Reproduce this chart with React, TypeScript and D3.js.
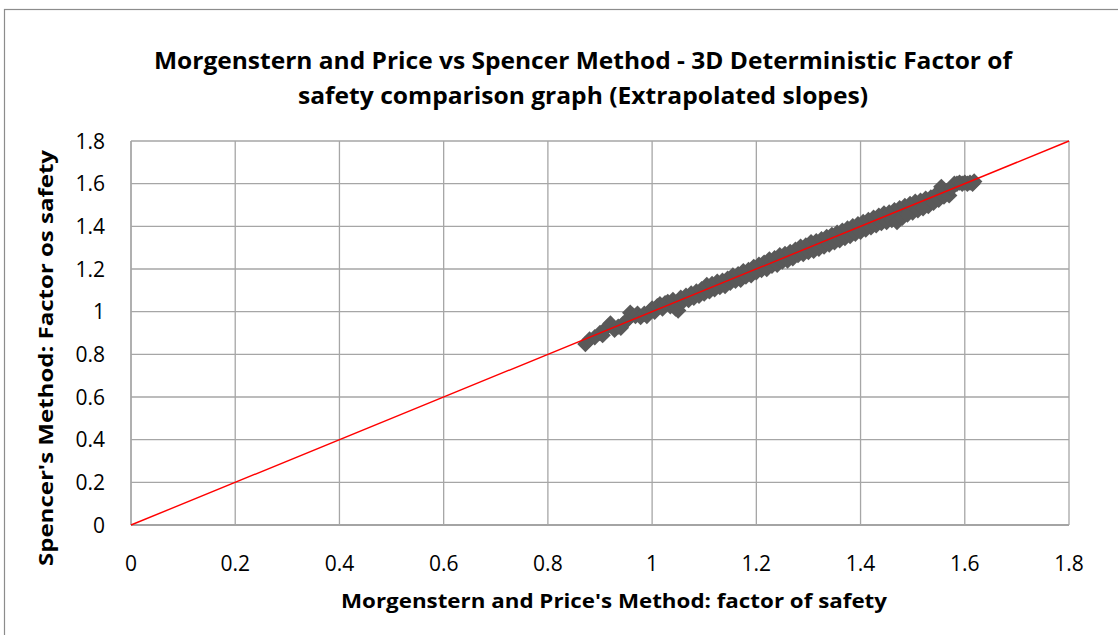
import React from 'react';
import * as d3 from 'd3';

// [Morgenstern-Price FoS, Spencer FoS]
const fosPairs: [number, number][] = [
  [0.872, 0.848], [0.88, 0.87], [0.89, 0.88], [0.9, 0.9], [0.905, 0.89], [0.915, 0.93],
  [0.92, 0.945], [0.928, 0.915], [0.935, 0.93], [0.94, 0.925], [0.945, 0.945], [0.952, 0.96],
  [0.958, 0.995], [0.962, 0.985], [0.968, 0.98], [0.972, 0.99], [0.978, 0.975], [0.985, 0.99],
  [0.99, 0.98], [0.995, 1.0], [1.0, 1.015], [1.005, 1.0],
  [1.01, 1.025], [1.015, 1.035], [1.02, 1.015], [1.025, 1.04], [1.03, 1.045], [1.035, 1.025],
  [1.04, 1.055], [1.045, 1.015], [1.05, 1.005], [1.055, 1.065], [1.06, 1.05], [1.065, 1.075],
  [1.07, 1.055], [1.075, 1.085], [1.08, 1.065], [1.085, 1.095], [1.09, 1.075], [1.095, 1.105], [1.1, 1.085],
  [1.105, 1.125], [1.11, 1.095], [1.115, 1.13], [1.12, 1.105], [1.125, 1.14], [1.13, 1.115],
  [1.135, 1.145], [1.14, 1.12], [1.145, 1.155], [1.15, 1.135], [1.155, 1.17], [1.16, 1.145],
  [1.165, 1.175], [1.17, 1.15], [1.175, 1.19], [1.18, 1.165], [1.185, 1.195], [1.19, 1.17],
  [1.195, 1.21], [1.2, 1.185],
  [1.205, 1.22], [1.21, 1.195], [1.215, 1.23], [1.22, 1.2], [1.225, 1.245], [1.23, 1.215],
  [1.235, 1.25], [1.24, 1.22], [1.245, 1.265], [1.25, 1.235], [1.255, 1.27], [1.26, 1.24],
  [1.265, 1.28], [1.27, 1.25], [1.275, 1.29], [1.28, 1.265], [1.285, 1.305], [1.29, 1.27],
  [1.295, 1.31], [1.3, 1.28],
  [1.305, 1.325], [1.31, 1.285], [1.315, 1.33], [1.32, 1.295], [1.325, 1.34], [1.33, 1.305],
  [1.335, 1.35], [1.34, 1.315], [1.345, 1.36], [1.35, 1.325], [1.355, 1.37], [1.36, 1.335],
  [1.365, 1.38], [1.37, 1.345], [1.375, 1.39], [1.38, 1.355], [1.385, 1.4], [1.39, 1.365],
  [1.395, 1.41], [1.4, 1.375],
  [1.405, 1.42], [1.41, 1.385], [1.415, 1.43], [1.42, 1.395], [1.425, 1.44], [1.43, 1.405],
  [1.435, 1.45], [1.44, 1.415], [1.445, 1.46], [1.45, 1.42], [1.455, 1.465], [1.46, 1.43],
  [1.465, 1.475], [1.47, 1.42], [1.475, 1.485], [1.48, 1.44], [1.485, 1.495], [1.49, 1.455],
  [1.495, 1.505], [1.5, 1.465],
  [1.505, 1.515], [1.51, 1.475], [1.515, 1.52], [1.52, 1.485], [1.525, 1.53], [1.53, 1.495],
  [1.535, 1.535], [1.54, 1.51], [1.545, 1.55], [1.55, 1.525], [1.555, 1.585], [1.56, 1.54],
  [1.565, 1.565], [1.57, 1.545], [1.575, 1.58], [1.58, 1.6], [1.585, 1.6], [1.59, 1.605],
  [1.595, 1.6], [1.6, 1.605], [1.605, 1.6], [1.61, 1.605], [1.615, 1.6], [1.618, 1.61],
];

// 1:1 reference line
const equalityLine: [number, number][] = [[0, 0], [1.8, 1.8]];

const axisTicks = [0, 0.2, 0.4, 0.6, 0.8, 1, 1.2, 1.4, 1.6, 1.8];

const titleLines = [
  'Morgenstern and Price vs Spencer Method - 3D Deterministic Factor of',
  'safety comparison graph (Extrapolated slopes)',
];

const W = 1118;
const H = 635;
const font = "'Open Sans', 'Liberation Sans', sans-serif";

const App: React.FC = () => {
  const x = d3.scaleLinear().domain([0, 1.8]).range([131, 1069]);
  const y = d3.scaleLinear().domain([0, 1.8]).range([525, 141]);

  const diamond = d3.symbol().type(d3.symbolSquare).size(135)();
  const line = d3.line<[number, number]>().x(d => x(d[0])).y(d => y(d[1]));

  return (
    <svg width={W} height={H} style={{ position: 'absolute', left: 0, top: 0, background: '#fff' }}>
      {/* outer chart border */}
      <rect x={4.5} y={9.5} width={1300} height={800} fill="#fff" stroke="#8c8c8c" strokeWidth={1.2} />

      {/* title */}
      {titleLines.map((t, i) => (
        <text key={t} x={583} y={69 + i * 35} textAnchor="middle" fontFamily={font}
          fontWeight="bold" fontSize={22.5} fill="#000"
          textLength={i === 0 ? 858 : 570} lengthAdjust="spacingAndGlyphs">{t}</text>
      ))}

      {/* gridlines */}
      {axisTicks.map(t => (
        <g key={'g' + t}>
          <line x1={x(t)} x2={x(t)} y1={y(0)} y2={y(1.8)} stroke={t === 0 ? '#868686' : '#a6a6a6'} strokeWidth={1.3} />
          <line x1={x(0)} x2={x(1.8)} y1={y(t)} y2={y(t)} stroke={t === 0 ? '#868686' : '#a6a6a6'} strokeWidth={1.3} />
        </g>
      ))}

      {/* tick labels */}
      {axisTicks.map(t => (
        <text key={'x' + t} x={x(t)} y={571} textAnchor="middle" fontFamily={font} fontSize={21} fill="#000">
          {d3.format('~g')(t)}
        </text>
      ))}
      {axisTicks.map(t => (
        <text key={'y' + t} x={105} y={y(t)} dy="0.36em" textAnchor="end" fontFamily={font} fontSize={21} fill="#000">
          {d3.format('~g')(t)}
        </text>
      ))}

      {/* scatter points */}
      {fosPairs.map((d, i) => (
        <path key={i} d={diamond!} transform={`translate(${x(d[0])},${y(d[1])}) rotate(45)`} fill="#595959" />
      ))}

      {/* 1:1 line */}
      <path d={line(equalityLine)!} fill="none" stroke="#ff0000" strokeWidth={1.4} />

      {/* axis titles */}
      <text x={614} y={608} textAnchor="middle" fontFamily={font} fontWeight="bold" fontSize={20}
        textLength={546} lengthAdjust="spacingAndGlyphs">Morgenstern and Price's Method: factor of safety</text>
      <text transform="translate(53,358) rotate(-90)" textAnchor="middle" fontFamily={font} fontWeight="bold"
        fontSize={20} textLength={416} lengthAdjust="spacingAndGlyphs">Spencer's Method: Factor os safety</text>
    </svg>
  );
};

export default App;
